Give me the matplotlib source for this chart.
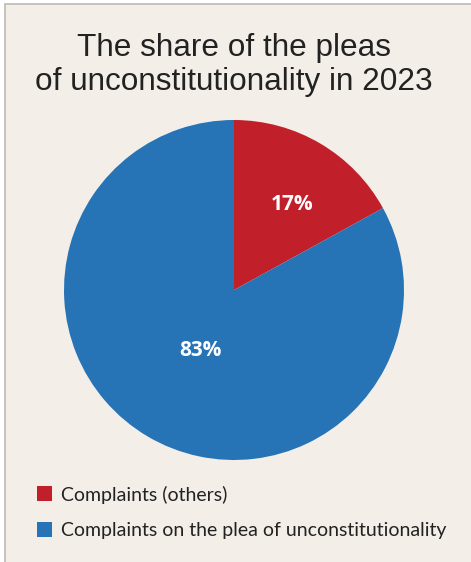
import matplotlib.pyplot as plt
from matplotlib.patches import Rectangle

# --- datos ---
labels = ["Complaints (others)", "Complaints on the plea of unconstitutionality"]
shares = [17, 83]
colors = ["#C11F2A", "#2673B6"]
title = "The share of the pleas\nof unconstitutionality in 2023"

BG = "#F3EFE8"

fig = plt.figure(figsize=(4.71, 5.62), dpi=100)
fig.patch.set_facecolor("white")

# fondo con borde gris arriba e izquierda
fig.patches.append(Rectangle((5 / 471, -0.01), 1.0, 1 - 4 / 562 + 0.01,
                             transform=fig.transFigure, facecolor=BG,
                             edgecolor="#BDBAB5", linewidth=1.2, zorder=0))

fig.text(234 / 471, 1 - 65 / 562, title, ha="center", va="center",
         fontsize=22.7, family="Liberation Sans", color="#222222",
         linespacing=1.2)

# --- torta ---
ax = fig.add_axes([64 / 471, (562 - 460) / 562, 340 / 471, 340 / 562])
ax.set_zorder(2)
ax.patch.set_visible(False)
wedges, _ = ax.pie(shares, colors=colors, startangle=90, counterclock=False,
                   wedgeprops=dict(linewidth=0))
ax.set_xlim(-1, 1)
ax.set_ylim(-1, 1)
ax.set_aspect("equal")

label_pos = [(292, 205), (200, 350)]
for (px, py), v in zip(label_pos, shares):
    fig.text(px / 471, 1 - py / 562, f"{v}%", ha="center", va="center",
             fontsize=15, fontweight="bold", family="Open Sans", color="white",
             zorder=5)

# --- leyenda ---
leg = fig.legend(wedges, labels, loc="upper left",
                 bbox_to_anchor=(19 / 471, 1 - 468 / 562),
                 frameon=False, handlelength=0.8, handleheight=0.8,
                 handletextpad=0.45, labelspacing=0.95,
                 prop=dict(family="Lato", size=14))
for t in leg.get_texts():
    t.set_color("#222222")

fig.savefig("out.png", dpi=100, facecolor=fig.get_facecolor())
